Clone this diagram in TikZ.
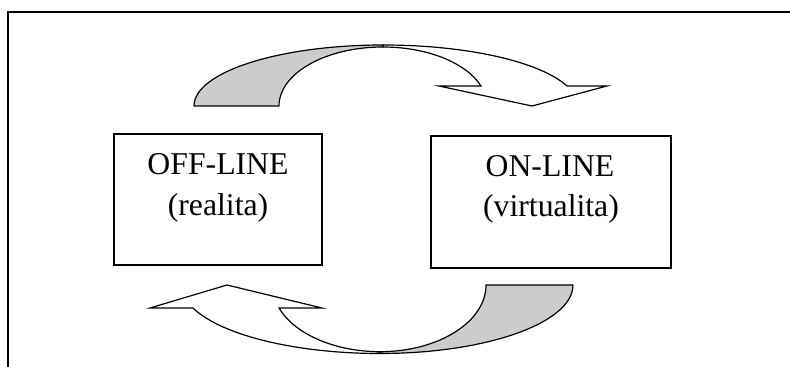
\documentclass[tikz,border=0pt]{standalone}
\usepackage{fontspec}
\setmainfont{Liberation Serif}
\definecolor{bandgray}{RGB}{204,204,204}
\begin{document}
\begin{tikzpicture}[x=0.75pt,y=-0.75pt,
  frameline/.style={line width=1.5pt, line join=miter},
  boxstyle/.style={draw, line width=1.1pt, minimum width=156pt, minimum height=98.5pt, inner sep=0pt},
  label/.style={anchor=base, inner sep=0pt, font=\fontsize{23.8}{28}\selectfont},
  bandback/.style={fill=bandgray, draw, line width=0.9pt, line join=round},
  bandfront/.style={fill=white, draw, line width=0.9pt, line join=miter}]
\useasboundingbox (0,0) rectangle (790,367);
% frame (top and left edges only)
\draw[frameline] (8,367) -- (8,12) -- (790,12);
% boxes
\node[boxstyle] (off) at (218,199.5) {};
\node[boxstyle, minimum width=180pt, minimum height=99pt] (on) at (551,202) {};
\node[label] (offa) at (218,175) {OFF-LINE};
\node[label] (offb) at (218,216) {(realita)};
\node[label] (ona) at (550,177) {ON-LINE};
\node[label] (onb) at (551,217) {(virtualita)};
% top curved arrow (OFF-LINE -> ON-LINE)
\draw[bandfront] (383,45) .. controls (465.9,45) and (539.6,61.3) .. (567,86)
  -- (607,86) -- (532,106) -- (439,86) -- (481,86)
  .. controls (466.1,62.6) and (426.9,47) .. (383,47) -- cycle;
\draw[bandback] (194,106) .. controls (194,72.3) and (278.6,45) .. (383,45)
  -- (383,47) .. controls (325.6,47) and (279,73.4) .. (279,106) -- cycle;
% bottom curved arrow (ON-LINE -> OFF-LINE)
\draw[bandfront] (380,353.5) .. controls (296.1,353.5) and (221.2,335.3) .. (193,308)
  -- (150,308) -- (227,285) -- (322,308) -- (279,308)
  .. controls (294.6,334.2) and (334.9,351.7) .. (380,351.7) -- cycle;
\draw[bandback] (486,285) -- (573,285) .. controls (573,322.8) and (486.6,353.5) .. (380,353.5)
  -- (380,351.7) .. controls (438.5,351.7) and (486,321.8) .. (486,285) -- cycle;
\end{tikzpicture}
\end{document}
